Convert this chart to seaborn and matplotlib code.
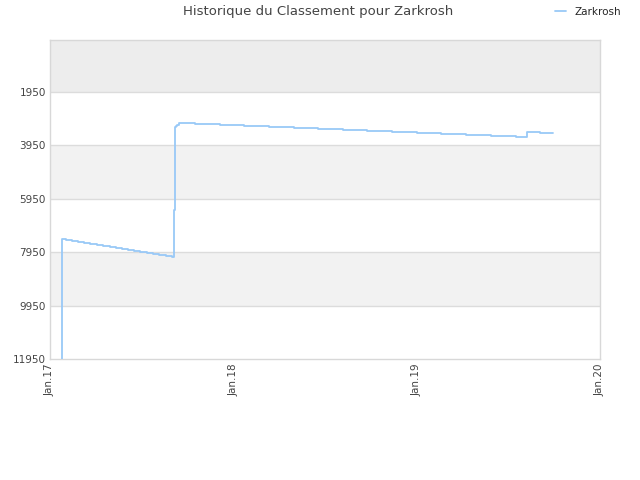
import pandas as pd
import seaborn as sns
import matplotlib.pyplot as plt
import matplotlib.dates as mdates

dates = ['2017-01-24', '2017-01-24', '2017-02-02', '2017-02-14', '2017-02-26',
         '2017-03-10', '2017-03-22', '2017-04-05', '2017-04-17', '2017-04-30',
         '2017-05-13', '2017-05-24', '2017-06-05', '2017-06-17', '2017-06-30',
         '2017-07-13', '2017-07-25', '2017-08-06', '2017-08-19', '2017-09-01',
         '2017-09-04', '2017-09-06', '2017-09-09', '2017-09-11', '2017-09-15',
         '2017-09-21', '2017-10-17', '2017-12-06', '2018-01-23', '2018-03-13',
         '2018-05-02', '2018-06-19', '2018-08-07', '2018-09-24', '2018-11-13',
         '2019-01-02', '2019-02-19', '2019-04-09', '2019-05-29', '2019-07-17',
         '2019-08-08', '2019-09-04', '2019-09-29']
ranks = [11950, 7455, 7481, 7518, 7556,
         7593, 7631, 7668, 7706, 7743,
         7781, 7818, 7856, 7893, 7931,
         7968, 8005, 8043, 8080, 8129,
         6368, 3270, 3222, 3173, 3120,
         3098, 3135, 3173, 3210, 3248,
         3285, 3323, 3360, 3398, 3435,
         3473, 3510, 3548, 3585, 3622,
         3435, 3473, 3473]
player = 'Zarkrosh'

y_ticks = [1950, 3950, 5950, 7950, 9950, 11950]
x_ticks = ['2017-01-01', '2018-01-01', '2019-01-01', '2020-01-01']
x_labels = ['Jan.17', 'Jan.18', 'Jan.19', 'Jan.20']

df = pd.DataFrame({'date': pd.to_datetime(dates), 'rank': ranks})

sns.set_style('white')
plt.rcParams['font.family'] = ['DejaVu Sans']

fig = plt.figure(figsize=(6.4, 4.8), dpi=100)
ax = fig.add_axes([50/640, 1 - 359/480, 550/640, 319/480])

# bandes alternées
ax.axhspan(0, 1950, color='#ededed', zorder=0, lw=0)
ax.axhspan(3950, 5950, color='#f2f2f2', zorder=0, lw=0)
ax.axhspan(7950, 9950, color='#f2f2f2', zorder=0, lw=0)
for t in y_ticks[:-1]:
    ax.axhline(t, color='#dcdcdc', lw=1, zorder=1)

sns.lineplot(data=df, x='date', y='rank', ax=ax, estimator=None, sort=False,
             drawstyle='steps-post', color='#99c9f7', lw=1.3, label=player, zorder=3)

ax.set_ylim(11950, 0)
ax.set_xlim(pd.Timestamp('2017-01-01'), pd.Timestamp('2020-01-01'))
ax.set_yticks(y_ticks)
ax.set_yticklabels([str(t) for t in y_ticks])
ax.set_xticks(pd.to_datetime(x_ticks))
ax.set_xticklabels(x_labels, rotation=90)
ax.tick_params(axis='both', length=0, labelsize=7.5, labelcolor='#444444', pad=3)
ax.set_xlabel('')
ax.set_ylabel('')
for s in ax.spines.values():
    s.set_color('#d8d8d8')
    s.set_linewidth(1)

fig.text(318/640, 1 - 12/480, 'Historique du Classement pour Zarkrosh', ha='center', va='center',
         fontsize=9.5, color='#444444')
ax.legend(loc='center', bbox_to_anchor=(588/640, 1 - 12/480), bbox_transform=fig.transFigure,
          frameon=False, fontsize=7.5, handlelength=1.0, handletextpad=0.8)

fig.savefig('out.png', dpi=100)
